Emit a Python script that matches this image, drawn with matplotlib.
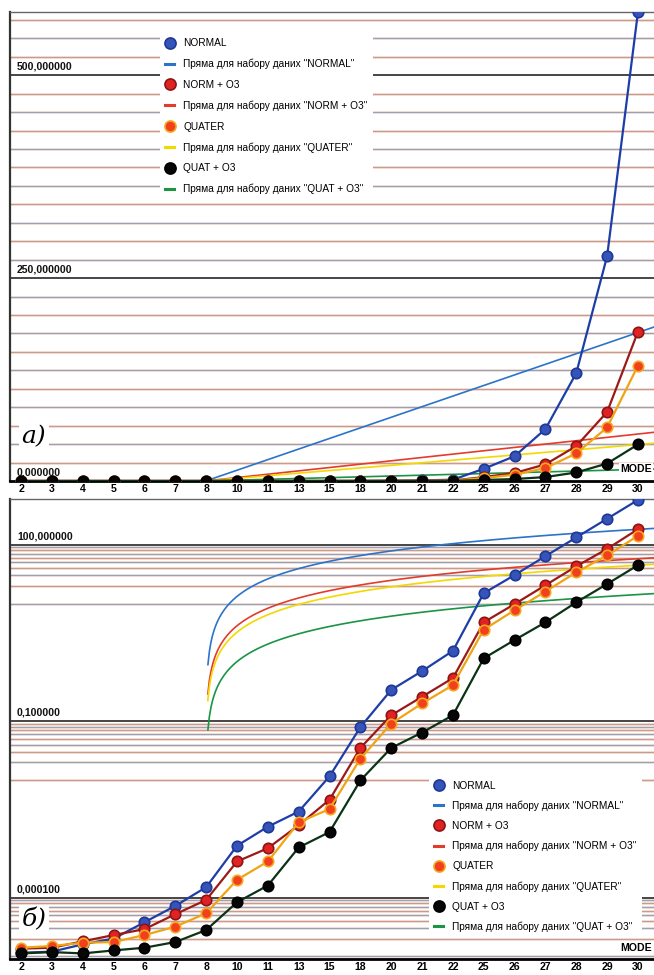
import numpy as np
import matplotlib
matplotlib.use("Agg")
import matplotlib.pyplot as plt
from matplotlib.lines import Line2D

plt.rcParams['font.family'] = ['Liberation Sans', 'DejaVu Sans']

# categories on the x axis
modes = ['2', '3', '4', '5', '6', '7', '8', '10', '11', '13', '15',
         '18', '20', '21', '22', '25', '26', '27', '28', '29', '30']

# values (same data in both panels)
normal = [1.15e-5, 1.2e-5, 1.6e-5, 2.0e-5, 3.8e-5, 7.2e-5, 1.5e-4, 7.6e-4, 1.6e-3, 2.9e-3, 0.0115,
          0.079, 0.34, 0.71, 1.57, 15.0, 30.5, 64.0, 133.0, 277.0, 578.0]
norm_o3 = [1.35e-5, 1.4e-5, 1.8e-5, 2.3e-5, 2.9e-5, 5.2e-5, 9.1e-5, 4.1e-4, 6.9e-4, 1.7e-3, 4.6e-3,
           0.035, 0.126, 0.26, 0.54, 4.8, 9.8, 20.5, 43.0, 85.0, 184.0]
quater = [1.4e-5, 1.5e-5, 1.7e-5, 1.75e-5, 2.3e-5, 3.2e-5, 5.4e-5, 2.0e-4, 4.1e-4, 1.9e-3, 3.2e-3,
          0.023, 0.091, 0.20, 0.41, 3.6, 7.7, 16.0, 34.0, 66.0, 142.0]
quat_o3 = [1.12e-5, 1.18e-5, 1.12e-5, 1.26e-5, 1.4e-5, 1.75e-5, 2.8e-5, 8.3e-5, 1.6e-4, 7.1e-4, 1.3e-3,
           9.8e-3, 0.035, 0.064, 0.126, 1.17, 2.4, 4.8, 10.5, 21.5, 45.0]

names = ["NORMAL", "NORM + O3", "QUATER", "QUAT + O3"]
values = [normal, norm_o3, quater, quat_o3]
# marker face, marker edge, data line, trend line
face_c = ["#3553b8", "#e02222", "#f2401e", "#060606"]
edge_c = ["#1e3896", "#8c1414", "#f4a81e", "#000000"]
line_c = ["#1d3ea6", "#9c1a16", "#f0a414", "#0b3316"]
trend_c = ["#2c74c8", "#e23c2c", "#f4d800", "#1b9444"]

x = np.arange(len(modes))
x_right = 20.55

fig = plt.figure(figsize=(6.54, 9.75), dpi=100)
ax1 = fig.add_axes([0.0153, 0.5067, 0.9847, 0.481])
ax2 = fig.add_axes([0.0153, 0.0164, 0.9847, 0.4718])


def hline(ax, y, major, k=0):
    if major:
        ax.axhline(y, color="#262626", lw=1.2, zorder=0.6)
    else:
        ax.axhline(y, color="#f5dcd3", lw=2.0, zorder=0.4)
        ax.axhline(y, color=["#8ea5bd", "#c39d90"][k % 2], lw=0.8, zorder=0.5)


def ylabel(ax, y, txt):
    ax.annotate(txt, xy=(0.011, y), xycoords=("axes fraction", "data"),
                xytext=(0, 2.5), textcoords="offset points", va="bottom", ha="left",
                fontsize=7.6, fontweight="bold", color="#111111", zorder=5)


# ---- top panel, linear ----
minor_step = 250.0 / 11
for k in range(1, 26):
    if k % 11 == 0:
        continue
    hline(ax1, k * minor_step, False, k)
for y in [250, 500]:
    hline(ax1, y, True)
for y, t in [(0, "0,000000"), (250, "250,000000"), (500, "500,000000")]:
    ylabel(ax1, y, t)

# ---- bottom panel, log ----
ax2.set_yscale("log")
k = 0
for e in [2, -1, -4]:
    for m in range(1, 10):
        hline(ax2, m * 10.0 ** (e - 1), False, k)
        k += 1
    hline(ax2, 10.0 ** e, True)
for y, t in [(100, "100,000000"), (0.1, "0,100000"), (1e-4, "0,000100")]:
    ylabel(ax2, y, t)

for ax, logp in [(ax1, False), (ax2, True)]:
    for i in range(4):
        v = np.array(values[i])
        p = np.polyfit(x, v, 1)
        root = -p[1] / p[0]
        start = root + 0.07 if logp else root
        xfit = np.linspace(start, x_right, 300)
        ax.plot(xfit, np.polyval(p, xfit), color=trend_c[i], lw=1.2, zorder=2)
    for i in range(4):
        ax.plot(x, values[i], color=line_c[i], lw=1.6, zorder=3,
                marker="o", ms=7.5, mfc=face_c[i], mec=edge_c[i], mew=1.2)

    ax.set_xlim(-0.36, 20.52)
    ax.set_xticks(x)
    ax.set_xticklabels(modes, fontsize=7.6, fontweight="bold")
    ax.tick_params(axis="x", length=0, pad=2.5)
    ax.tick_params(axis="y", which="both", length=0, labelleft=False)
    ax.set_yticks([], minor=True)
    ax.spines["right"].set_visible(False)
    ax.spines["top"].set_color("#666666")
    ax.spines["top"].set_linewidth(1.0)
    ax.spines["left"].set_color("#333333")
    ax.spines["left"].set_linewidth(1.6)
    ax.spines["bottom"].set_color("#000000")
    ax.spines["bottom"].set_linewidth(2.0)
    ax.text(0.997, 0.025, "MODE", transform=ax.transAxes, ha="right", va="center",
            fontsize=7.6, fontweight="bold", zorder=6,
            bbox=dict(facecolor="white", edgecolor="none", pad=1.0))

ax1.set_ylim(0, 578)
ax2.set_ylim(9.0e-6, 600)

ax1.text(0.018, 0.095, "a)", transform=ax1.transAxes, fontsize=18, style="italic",
         family="DejaVu Serif", va="center", ha="left", zorder=6,
         bbox=dict(facecolor="white", edgecolor="none", pad=2.0))
ax2.text(0.018, 0.085, "б)", transform=ax2.transAxes, fontsize=18, style="italic",
         family="DejaVu Serif", va="center", ha="left", zorder=6,
         bbox=dict(facecolor="white", edgecolor="none", pad=2.0))

# legends
handles = []
labels = []
for i in range(4):
    handles.append(Line2D([], [], ls="none", marker="o", ms=8, mfc=face_c[i], mec=edge_c[i], mew=1.2))
    labels.append(names[i])
    handles.append(Line2D([], [], color=trend_c[i], lw=2.2))
    labels.append('Пряма для набору даних "%s"' % names[i])

for ax, anchor, sp in [(ax1, (0.225, 0.966), 1.05), (ax2, (0.643, 0.41), 0.98)]:
    leg = ax.legend(handles, labels, loc="upper left", bbox_to_anchor=anchor,
                    fontsize=7.3, frameon=True, framealpha=1.0, facecolor="white",
                    edgecolor="none", fancybox=False, handlelength=0.9,
                    handletextpad=0.9, labelspacing=sp, borderpad=0.5)
    leg.set_zorder(10)

fig.savefig("out.png", dpi=100, facecolor="white")
